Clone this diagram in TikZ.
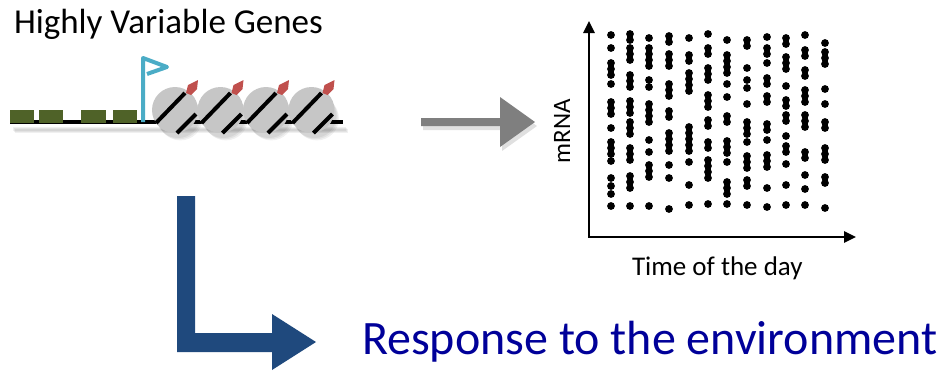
\documentclass[tikz,border=0pt]{standalone}
\usepackage{fontspec}
\setmainfont{Carlito}
\usetikzlibrary{arrows.meta}
\definecolor{genegreen}{HTML}{4F6228}
\definecolor{flagblue}{HTML}{4BACC6}
\definecolor{nucgrey}{HTML}{C6C6C6}
\definecolor{tagred}{HTML}{C0504D}
\definecolor{arrowgrey}{HTML}{7F7F7F}
\definecolor{lblue}{HTML}{1F497D}
\definecolor{respblue}{HTML}{000099}
\begin{document}
\begin{tikzpicture}[x=1pt,y=-1pt,
  label/.style={anchor=base west,inner sep=0pt,outer sep=0pt},
  dna/.style={line width=4pt},
  shade/.style={black,opacity=0.06},
  axis/.style={line width=2.6pt,line join=miter,
    {Triangle[length=12pt,width=11pt]}-{Triangle[length=12pt,width=11pt]}},
  dot/.style={black}]
\useasboundingbox (0,0) rectangle (942,373);

% title
\node[label,font=\fontsize{35}{40}\selectfont] (title) at (14,33) {Highly Variable Genes};

% soft shadow under the gene
\begin{scope}[shift={(3,6)}]
  \foreach \k in {0,1,2}{
    \begin{scope}[shift={(\k*1.2,\k*1.2)}]
      \fill[shade] (10,121) rectangle (343,125);
      \foreach \cx in {175,220.5,266,311.5}
        \fill[shade] (\cx,110) circle (22);
    \end{scope}}
\end{scope}

% gene body and upstream elements
\draw[dna] (10,122) -- (343,122);
\foreach \a/\b in {10/34,39/63,81/106,113/137}
  \fill[genegreen] (\a,110) rectangle (\b,123);

% transcription start flag
\draw[flagblue,line width=4pt,line join=round]
  (143,122) -- (143,58) -- (167,67) -- (147,74);

% nucleosomes
\foreach \cx in {175,220.5,266,311.5}{
  \fill[nucgrey] (\cx,110) circle (23);
  \draw[dna] (\cx-19,123) -- (\cx+10,93);
  \draw[dna] (\cx+2,133) -- (\cx+21,114);
  \fill[tagred] (\cx+11,93) -- (\cx+13,85) -- (\cx+23,80)
     -- (\cx+22,89) -- (\cx+16,95) -- cycle;
}

% grey arrow with shadow
\fill[black,opacity=0.12]
  (423,122) -- (502,122) -- (502,101) -- (537,126) -- (502,151) -- (502,130) -- (423,130) -- cycle;
\fill[arrowgrey]
  (421,118) -- (500,118) -- (500,97) -- (535,122) -- (500,147) -- (500,126) -- (421,126) -- cycle;

% plot: axes
\coordinate (ytip) at (589,21);
\coordinate (origin) at (589,237);
\coordinate (xtip) at (856,237);
\draw[axis] (ytip) -- (origin) -- (xtip);

% plot: expression values per time point
\foreach \x/\ys in {
  611/{35,48,63,69,75,84,102,108,114,128,142,148,154,161,178,186,194,206},
  630/{34,40,48,54,60,75,81,87,101,107,113,122,128,134,148,154,160,176,182,188,206},
  649/{38,48,54,60,66,80,87,104,110,116,122,140,152,165,171,177,206},
  669/{36,42,54,60,66,84,90,96,111,117,133,139,145,151,165,178,209},
  689/{38,55,61,73,79,85,91,127,133,139,145,151,162,185,205},
  708/{34,48,54,68,74,80,95,101,107,120,126,142,148,160,166,172,178,204},
  727/{40,55,61,67,73,84,97,116,122,141,147,153,162,182,188,194,204},
  747/{40,46,68,80,88,104,122,128,134,142,156,162,168,180,186,205},
  767/{37,48,54,63,78,84,96,102,124,130,140,155,161,167,188,207},
  786/{38,44,57,63,69,86,100,106,115,121,136,146,152,164,185,205},
  805/{35,50,56,70,76,90,96,102,115,121,127,152,158,175,189,205},
  825/{43,52,58,64,89,104,122,128,148,154,160,177,183,208}}{
  \foreach \y in \ys \fill[dot] (\x,\y) circle (3.9);
}

\node[label,font=\fontsize{27}{32}\selectfont] (xlab) at (632,275) {Time of the day};
\node[label,font=\fontsize{25}{30}\selectfont,rotate=90] (ylab) at (570,163) {mRNA};

% bent arrow towards the response
\fill[lblue] (177,196) -- (195,196) -- (195,333) -- (272,333) -- (272,314)
  -- (316,342) -- (272,370) -- (272,352) -- (177,352) -- cycle;

\node[label,font=\fontsize{48}{56}\selectfont,text=respblue] (resp) at (362,354) {Response to the environment};
\end{tikzpicture}
\end{document}
